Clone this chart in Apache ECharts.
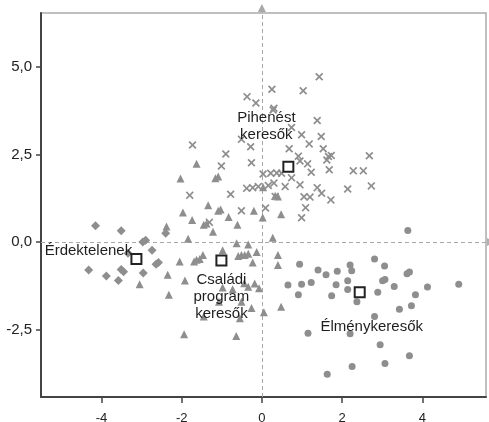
<!DOCTYPE html>
<html>
<head>
<meta charset="utf-8">
<script src="https://cdn.jsdelivr.net/npm/echarts@6/dist/echarts.min.js"></script>
<style>
  html, body { margin: 0; padding: 0; background: #fff; }
  #chart { width: 489px; height: 422px; }
</style>
</head>
<body>
<div id="chart"></div>
<script>
// cluster members, [x, y] in the chart's own units
var piheneset = [
  [1.43, 4.72], [0.25, 4.36], [1.03, 4.32], [-0.37, 4.15], [-0.15, 3.97], [0.28, 3.77],
  [0.30, 3.82], [1.38, 3.47], [0.74, 3.27], [0.99, 3.06], [1.48, 3.01], [-0.51, 2.93],
  [-0.28, 2.72], [-1.73, 2.77], [-0.90, 2.51], [1.18, 2.80], [0.68, 2.66], [1.53, 2.66],
  [0.91, 2.45], [0.95, 2.31], [1.14, 2.23], [1.66, 2.44], [1.73, 2.47], [1.62, 2.34],
  [2.68, 2.46], [-1.01, 2.17], [-0.26, 2.26], [1.23, 1.99], [1.68, 2.06], [2.28, 2.03],
  [2.53, 2.03], [0.74, 1.83], [0.03, 1.94], [0.22, 1.96], [0.37, 1.97], [0.49, 1.96],
  [0.95, 1.63], [0.58, 1.58], [1.38, 1.55], [1.49, 1.39], [2.14, 1.51], [2.73, 1.60],
  [1.05, 1.29], [1.20, 1.28], [1.72, 1.20], [1.09, 0.98], [0.99, 0.69], [-0.38, 1.53],
  [-0.23, 1.55], [-0.09, 1.58], [0.16, 1.61], [0.30, 1.68], [-1.80, 1.33], [-0.78, 1.36],
  [-0.51, 0.89], [0.09, 0.97], [-1.31, 0.56], [0.33, 1.30]
];
var csaladi = [
  [-1.63, 2.23], [-2.03, 1.81], [-1.16, 1.82], [-1.09, 1.87], [0.03, 1.56], [0.33, 1.32],
  [0.40, 1.30], [-1.34, 1.05], [-1.09, 0.89], [-1.03, 0.93], [-1.97, 0.84], [-0.20, 0.89],
  [0.48, 0.79], [-1.74, 0.63], [-0.83, 0.71], [-1.45, 0.49], [-1.38, 0.53], [0.02, 0.70],
  [-0.61, 0.49], [-1.22, 0.29], [-2.38, 0.44], [-1.84, 0.09], [0.27, 0.12], [-0.63, -0.04],
  [-0.34, -0.07], [-0.98, -0.24], [-0.59, -0.40], [-0.51, -0.37], [-0.43, -0.37], [-0.34, -0.34],
  [-0.13, -0.29], [-1.47, -0.37], [-1.63, -0.51], [-1.69, -0.56], [-1.55, -0.49], [-2.05, -0.56],
  [-0.23, -0.59], [0.40, -0.37], [0.40, -0.66], [-1.92, -1.10], [-0.98, -1.30], [-0.73, -1.35],
  [-0.44, -1.18], [-0.34, -1.28], [-0.18, -1.19], [-0.07, -1.32], [-2.32, -1.51], [-0.51, -1.71],
  [-0.26, -1.89], [0.05, -2.01], [0.48, -1.85], [-1.45, -2.13], [-0.55, -2.18], [-1.94, -2.64],
  [-0.64, -2.69], [-1.07, -1.71], [-2.35, -0.94], [-3.05, -1.21]
];
var erdektelen = [
  [-4.15, 0.46], [-3.51, 0.32], [-2.97, 0.00], [-2.90, 0.05], [-2.74, -0.24], [-3.34, -0.32],
  [-2.64, -0.64], [-2.58, -0.59], [-4.32, -0.80], [-3.51, -0.79], [-3.45, -0.85], [-2.96, -0.89],
  [-3.88, -0.97], [-3.58, -1.10], [-2.40, 0.25]
];
var elmeny = [
  [3.64, 0.33], [2.81, -0.49], [0.94, -0.64], [1.40, -0.80], [1.60, -0.94], [1.88, -0.84],
  [2.20, -0.66], [2.24, -0.82], [3.06, -0.69], [3.62, -0.91], [3.68, -0.86], [0.65, -1.23],
  [0.99, -1.21], [1.23, -1.16], [1.85, -1.22], [2.14, -1.11], [2.14, -1.36], [3.01, -1.11],
  [3.07, -1.07], [3.30, -1.27], [4.13, -1.29], [4.91, -1.21], [0.91, -1.51], [1.74, -1.54],
  [2.37, -1.71], [2.89, -1.44], [3.83, -1.51], [3.43, -1.92], [3.73, -1.82], [2.81, -2.13],
  [1.15, -2.61], [2.20, -2.62], [2.95, -2.94], [3.68, -3.25], [3.07, -3.47], [2.25, -3.56],
  [1.63, -3.78]
];

// cluster centres
var centroidNames = ['Pihenést\nkeresők', 'Érdektelenek', 'Családi\nprogram\nkeresők', 'Élménykeresők'];
var centroidX = [0.66, -3.13, -1.01, 2.44];
var centroidY = [2.15, -0.49, -0.53, -1.44];

var xTicks = [-4, -2, 0, 2, 4];
var yTicks = [-2.5, 0, 2.5, 5];
var xRange = [-5.51, 5.59];
var yRange = [-4.43, 6.54];

// where each centre label sits, relative to its square
var labelOffsets = [[-22, -40], [-48, -8], [0, 36], [12, 35]];

var dotColor = '#8e8e8e';
var crossPath = 'path://M0,1.5 L1.5,0 L5,3.5 L8.5,0 L10,1.5 L6.5,5 L10,8.5 L8.5,10 L5,6.5 L1.5,10 L0,8.5 L3.5,5 Z';

var chart = echarts.init(document.getElementById('chart'), null, { renderer: 'canvas' });

var centroidData = centroidNames.map(function (n, i) {
  return {
    name: n,
    value: [centroidX[i], centroidY[i]],
    label: { offset: labelOffsets[i] }
  };
});

function pointSeries(name, data, symbol, size) {
  return {
    name: name,
    type: 'scatter',
    data: data,
    symbol: symbol,
    symbolSize: size,
    itemStyle: { color: dotColor, opacity: 1 },
    silent: true,
    z: 3
  };
}

var option = {
  animation: false,
  backgroundColor: '#fff',
  textStyle: { fontFamily: 'Liberation Sans, Arial, sans-serif' },
  grid: {
    left: 41, right: 3, top: 13, bottom: 25,
    outerBoundsMode: 'none',
    containLabel: false,
    show: true, borderColor: '#aaa', borderWidth: 1.5, backgroundColor: '#fff'
  },
  xAxis: {
    type: 'value',
    min: xRange[0], max: xRange[1],
    axisLine: { show: true, onZero: false, lineStyle: { color: '#444', width: 2 } },
    axisTick: { show: true, customValues: xTicks, length: 6, lineStyle: { color: '#444', width: 1.5 } },
    axisLabel: {
      customValues: xTicks, margin: 15, fontSize: 13, color: '#222',
      formatter: function (v) { return String(v); }
    },
    splitLine: { show: false }
  },
  yAxis: {
    type: 'value',
    min: yRange[0], max: yRange[1],
    axisLine: { show: true, onZero: false, lineStyle: { color: '#444', width: 2 } },
    axisTick: { show: true, customValues: yTicks, length: 5, lineStyle: { color: '#444', width: 1.5 } },
    axisLabel: {
      customValues: yTicks, margin: 9, fontSize: 15, color: '#222',
      formatter: function (v) { return v.toFixed(1).replace('.', ','); }
    },
    splitLine: { show: false }
  },
  series: [
    Object.assign(pointSeries('Pihenést keresők', piheneset, crossPath, 8), {
      markLine: {
        silent: true,
        symbol: 'none',
        label: { show: false },
        lineStyle: { color: '#a8a8a8', type: [4, 3], width: 1 },
        data: [{ xAxis: 0 }, { yAxis: 0 }],
        z: 1
      }
    }),
    pointSeries('Családi program keresők', csaladi, 'triangle', 8),
    pointSeries('Érdektelenek', erdektelen, 'diamond', 9),
    pointSeries('Élménykeresők', elmeny, 'circle', 7),
    {
      name: 'centroids',
      type: 'scatter',
      data: centroidData,
      symbol: 'rect',
      symbolSize: 10,
      itemStyle: { color: '#fff', borderColor: '#222', borderWidth: 2, opacity: 1 },
      label: {
        show: true,
        position: 'inside',
        formatter: '{b}',
        fontSize: 15,
        lineHeight: 17,
        color: '#1e1e1e',
        align: 'center',
        verticalAlign: 'middle',
        fontFamily: 'Liberation Sans, Arial, sans-serif'
      },
      silent: true,
      z: 5
    }
  ]
};

chart.setOption(option);

// extend the zero lines past the frame, ending in small arrows
var topPt = chart.convertToPixel({ gridIndex: 0 }, [0, yRange[1]]);
var rightPt = chart.convertToPixel({ gridIndex: 0 }, [xRange[1], 0]);
chart.setOption({
  graphic: [
    { type: 'line', silent: true, z: 10,
      shape: { x1: topPt[0], y1: topPt[1], x2: topPt[0], y2: topPt[1] - 4 },
      style: { stroke: '#a8a8a8', lineWidth: 1 } },
    { type: 'polygon', silent: true, z: 10,
      shape: { points: [[topPt[0] - 4, topPt[1] - 1], [topPt[0] + 4, topPt[1] - 1], [topPt[0], topPt[1] - 9]] },
      style: { fill: '#a8a8a8' } },
    { type: 'polygon', silent: true, z: 10,
      shape: { points: [[rightPt[0] + 1, rightPt[1] - 4], [rightPt[0] + 1, rightPt[1] + 4], [rightPt[0] + 9, rightPt[1]]] },
      style: { fill: '#b0b0b0' } }
  ]
});
</script>
</body>
</html>
